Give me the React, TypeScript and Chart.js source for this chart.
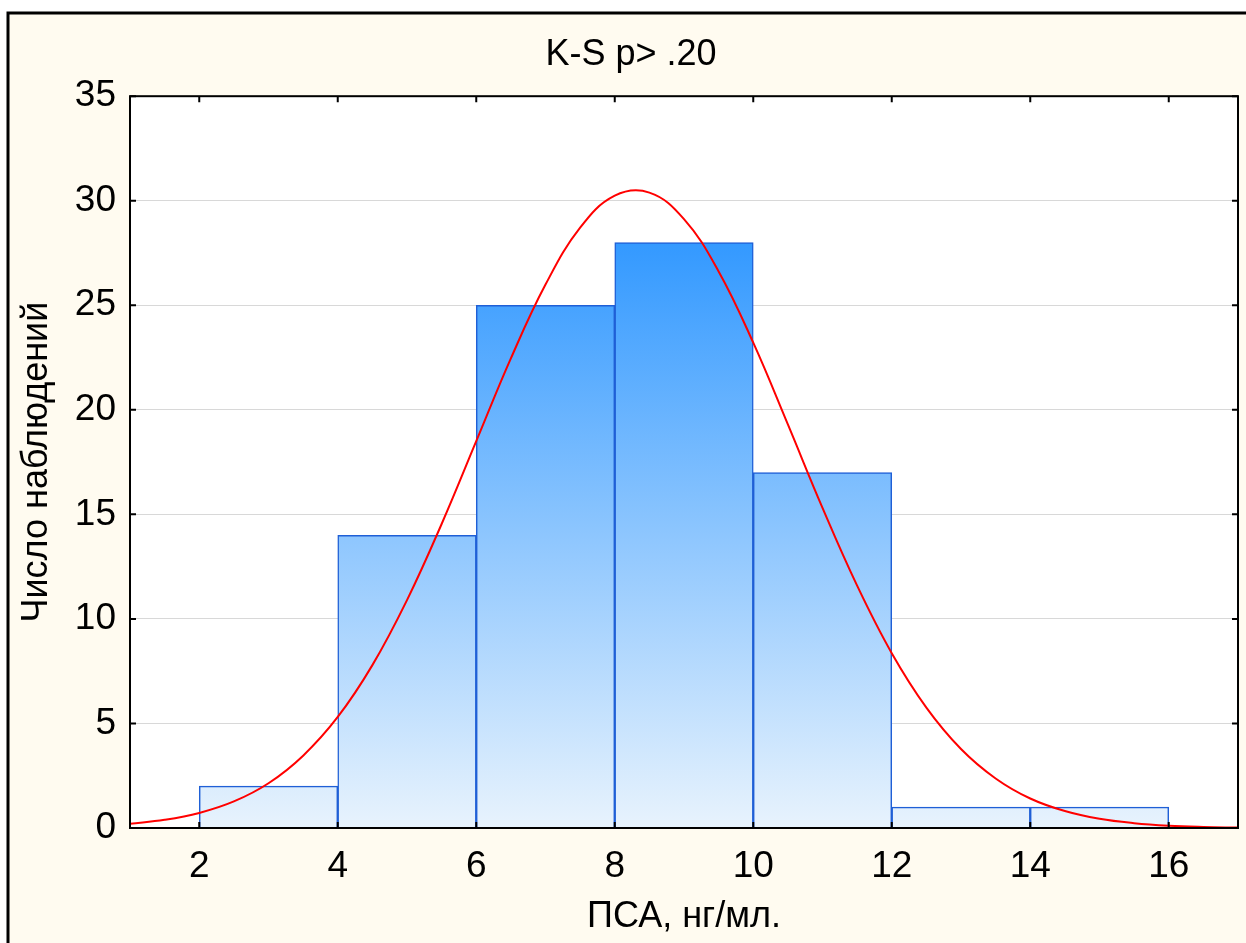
import React, { useEffect, useRef } from "react";
import { Chart, registerables } from "chart.js";

Chart.register(...registerables);

// ---- data ----
const BIN_CENTERS = [3, 5, 7, 9, 11, 13, 15];
const BIN_COUNTS = [2, 14, 25, 28, 17, 1, 1];
const CURVE_X = [1, 1.5, 2, 2.5, 3, 3.5, 4, 4.5, 5, 5.5, 6, 6.5, 7, 7.5, 8, 8.5, 9, 9.5, 10, 10.5, 11, 11.5, 12, 12.5, 13, 13.5, 14, 14.5, 15, 15.5, 16, 16.5, 17];
const CURVE_Y = [0.2, 0.39, 0.72, 1.27, 2.14, 3.46, 5.31, 7.79, 10.9, 14.54, 18.5, 22.46, 25.99, 28.71, 30.24, 30.39, 29.12, 26.62, 23.21, 19.3, 15.31, 11.59, 8.36, 5.76, 3.78, 2.37, 1.41, 0.81, 0.44, 0.23, 0.11, 0.05, 0.02];
const X_TICKS = [2, 4, 6, 8, 10, 12, 14, 16];
const Y_TICKS = [0, 5, 10, 15, 20, 25, 30, 35];
const TITLE = "K-S p> .20";
const X_TITLE = "ПСА, нг/мл.";
const Y_TITLE = "Число наблюдений";

const FONT = "'Liberation Sans', Arial, Helvetica, sans-serif";
const CREAM = "#FFFBF0";
const GRADIENT_TOP_VALUE = 28;

const framePlugin = {
  id: "frame",
  beforeDraw(chart: any) {
    const { ctx, width, height } = chart;
    ctx.save();
    ctx.fillStyle = "#ffffff";
    ctx.fillRect(0, 0, width, height);
    ctx.fillStyle = CREAM;
    ctx.fillRect(8, 13, width, height);
    ctx.strokeStyle = "#000";
    ctx.lineWidth = 3;
    ctx.beginPath();
    ctx.moveTo(8, height + 5);
    ctx.lineTo(8, 13);
    ctx.lineTo(width + 5, 13);
    ctx.stroke();
    const a = chart.chartArea;
    ctx.fillStyle = "#ffffff";
    ctx.fillRect(a.left, a.top, a.right - a.left, a.bottom - a.top);
    ctx.restore();
  },
  afterDraw(chart: any) {
    const { ctx, chartArea: a, scales } = chart;
    ctx.save();
    ctx.strokeStyle = "#000";
    ctx.lineWidth = 2;
    ctx.strokeRect(a.left, a.top, a.right - a.left, a.bottom - a.top);
    const tl = 6;
    ctx.beginPath();
    scales.x.ticks.forEach((t: any) => {
      const px = scales.x.getPixelForValue(t.value);
      ctx.moveTo(px, a.top);
      ctx.lineTo(px, a.top + tl);
      ctx.moveTo(px, a.bottom);
      ctx.lineTo(px, a.bottom - tl);
    });
    scales.y.ticks.forEach((t: any) => {
      const py = scales.y.getPixelForValue(t.value);
      ctx.moveTo(a.left, py);
      ctx.lineTo(a.left + tl, py);
      ctx.moveTo(a.right, py);
      ctx.lineTo(a.right - tl, py);
    });
    ctx.stroke();
    ctx.restore();
  },
};

export default function App() {
  const ref = useRef<HTMLCanvasElement | null>(null);

  useEffect(() => {
    if (!ref.current) return;
    Chart.defaults.font.family = FONT;
    const chart = new Chart(ref.current, {
      type: "bar",
      data: {
        datasets: [
          {
            type: "line",
            label: "normal",
            data: CURVE_X.map((x, i) => ({ x, y: CURVE_Y[i] })),
            borderColor: "#ff0000",
            borderWidth: 2,
            pointRadius: 0,
            tension: 0.4,
            fill: false,
            order: 0,
          } as any,
          {
            type: "bar",
            label: "counts",
            data: BIN_CENTERS.map((x, i) => ({ x, y: BIN_COUNTS[i] })),
            backgroundColor: (context: any) => {
              const chart = context.chart;
              const { ctx, chartArea, scales } = chart;
              if (!chartArea || !scales.y) return "#8ec5fc";
              const y0 = scales.y.getPixelForValue(0);
              const y1 = scales.y.getPixelForValue(GRADIENT_TOP_VALUE);
              const g = ctx.createLinearGradient(0, y0, 0, y1);
              g.addColorStop(0, "#E8F3FD");
              g.addColorStop(1, "#3399FF");
              return g;
            },
            borderColor: "#1f5fd6",
            borderWidth: 1.5,
            categoryPercentage: 1,
            barPercentage: 1,
            grouped: false,
            order: 1,
          } as any,
        ],
      },
      options: {
        animation: false,
        responsive: false,
        maintainAspectRatio: false,
        layout: { padding: { left: 24, right: 8, top: 13, bottom: 0 } },
        plugins: {
          legend: { display: false },
          tooltip: { enabled: false },
          title: {
            display: true,
            text: TITLE,
            color: "#000",
            font: { family: FONT, size: 36, weight: "normal" },
            padding: { top: 20, bottom: 20 },
          },
        },
        scales: {
          x: {
            type: "linear",
            offset: false,
            min: 1,
            max: 17,
            afterBuildTicks: (s: any) => {
              s.ticks = X_TICKS.map((v) => ({ value: v }));
            },
            afterFit: (s: any) => {
              s.height = 115;
            },
            grid: { display: false, offset: false },
            border: { display: false },
            ticks: {
              color: "#000",
              font: { family: FONT, size: 37 },
              padding: 9,
              maxRotation: 0,
              autoSkip: false,
            },
            title: {
              display: true,
              text: X_TITLE,
              color: "#000",
              font: { family: FONT, size: 36 },
              padding: { top: 0, bottom: 4 },
            },
          },
          y: {
            type: "linear",
            min: 0,
            max: 35,
            afterBuildTicks: (s: any) => {
              s.ticks = Y_TICKS.map((v) => ({ value: v }));
            },
            afterFit: (s: any) => {
              s.width = 106;
            },
            grid: { color: "#d8d8d8", lineWidth: 1, drawTicks: false },
            border: { display: false },
            ticks: {
              color: "#000",
              font: { family: FONT, size: 37 },
              padding: 14,
              autoSkip: false,
            },
            title: {
              display: true,
              text: Y_TITLE,
              color: "#000",
              font: { family: FONT, size: 36 },
              padding: { top: -9, bottom: 0 },
            },
          },
        },
      } as any,
      plugins: [framePlugin],
    });
    return () => chart.destroy();
  }, []);

  return (
    <div style={{ position: "fixed", left: 0, top: 0, width: 1246, height: 943, overflow: "hidden" }}>
      <canvas ref={ref} width={1246} height={943} style={{ width: 1246, height: 943, display: "block" }} />
    </div>
  );
}
